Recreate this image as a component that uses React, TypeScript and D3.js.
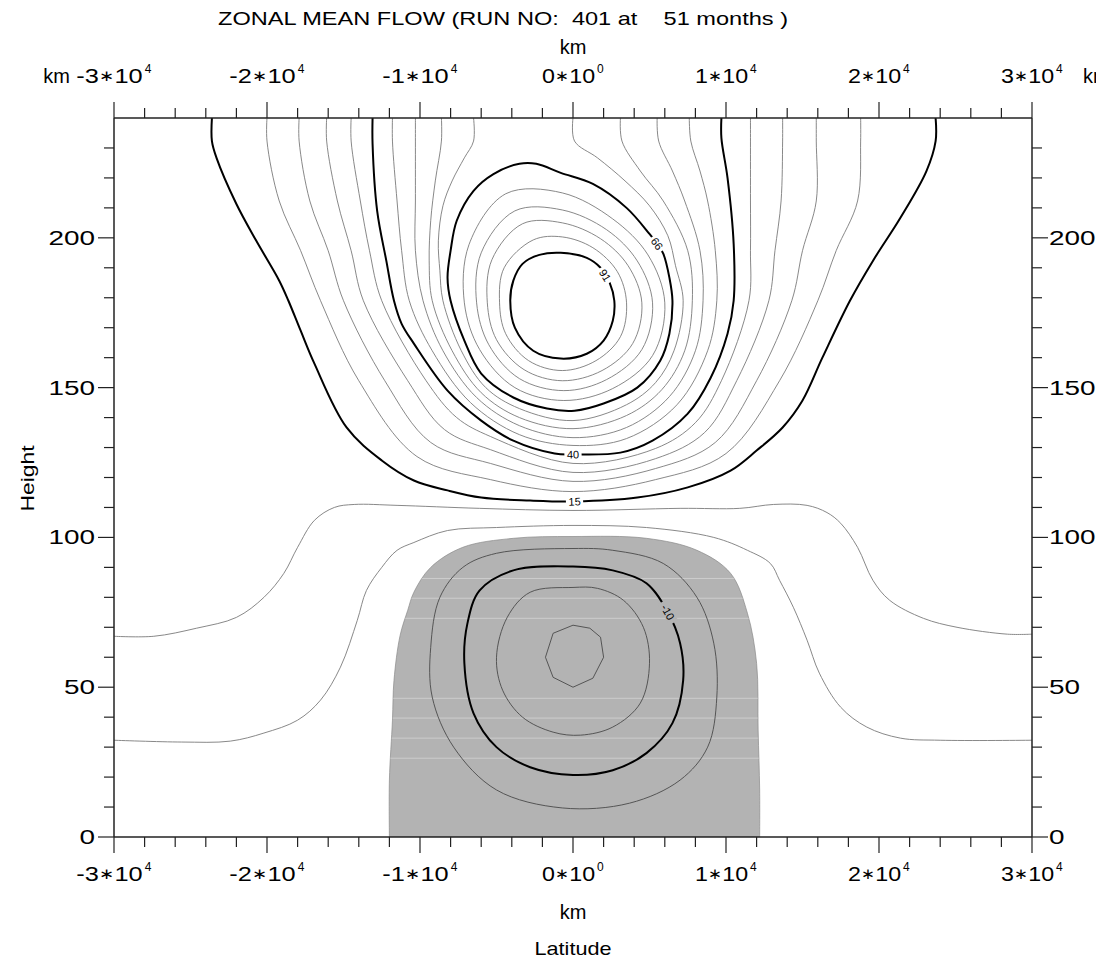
import React from 'react';
import * as d3 from 'd3';

type Pt = [number, number];

// ---------- texts ----------
const TITLE = 'ZONAL MEAN FLOW (RUN NO:  401 at    51 months )';
const X_UNIT = 'km';
const X_TITLE = 'Latitude';
const Y_TITLE = 'Height';

// ---------- axes (x in 10^3 km, y = height) ----------
const X_DOMAIN: [number, number] = [-30, 30];
const Y_DOMAIN: [number, number] = [0, 240];
const xMajorTicks = [-30, -20, -10, 0, 10, 20, 30];
const xTickMantissa = ['-3', '-2', '-1', '0', '1', '2', '3'];
const xTickExponent = ['4', '4', '4', '0', '4', '4', '4'];
const xMinorTicks = [-28, -26, -24, -22, -18, -16, -14, -12, -8, -6, -4, -2, 2, 4, 6, 8, 12, 14, 16, 18, 22, 24, 26, 28];
const yMajorTicks = [0, 50, 100, 150, 200];
const yTickLabels = ['0', '50', '100', '150', '200'];
const yMinorTicks = [10, 20, 30, 40, 60, 70, 80, 90, 110, 120, 130, 140, 160, 170, 180, 190, 210, 220, 230];

// ---------- contour lines ----------
const contour15: Pt[] = [[-23.6, 240], [-23.6, 232.3], [-23.3, 226.7], [-22.0, 211.3], [-20.7, 199], [-19.2, 185.7], [-18.6, 179], [-17.8, 169], [-16.9, 158], [-14.8, 136.7], [-12.5, 125.7], [-10.4, 119], [-8.2, 115.7], [-6.0, 113.3], [-2.8, 112.3], [0.1, 112], [4.2, 113.3], [7.5, 116.7], [10.3, 122.3], [12.0, 129], [13.7, 136.7], [15.0, 145.7], [16.3, 160], [18.1, 179], [19.6, 192.3], [21.4, 206.7], [23.1, 222.3], [23.7, 232.3], [23.7, 240]];
const contour20: Pt[] = [[-20.0, 240], [-20.0, 232.3], [-19.2, 212.3], [-17.8, 195.7], [-16.5, 179], [-14.0, 152.3], [-10.2, 127], [-5.4, 119.3], [0, 115.3], [5.4, 119.3], [10.0, 128], [13.5, 152.3], [16.0, 179], [17.2, 195.7], [18.6, 212.3], [18.8, 232.3], [18.8, 240]];
const contour25: Pt[] = [[-17.9, 240], [-17.9, 232.3], [-17.2, 212.3], [-16.0, 195.7], [-15.0, 179], [-12.3, 152.3], [-9.3, 131.7], [-5.4, 124.7], [0, 118.7], [5.4, 123], [9.3, 131.7], [12.0, 152.3], [14.3, 179], [15.0, 195.7], [15.9, 212.3], [15.9, 232.3], [15.9, 240]];
const contour30: Pt[] = [[-16.1, 240], [-16.1, 232.3], [-15.4, 212.3], [-14.5, 195.7], [-13.7, 179], [-10.8, 152.3], [-8.4, 136], [-5.4, 129.3], [0, 121.7], [5.4, 126.3], [8.6, 135], [10.7, 152.3], [12.8, 179], [13.2, 195.7], [13.6, 212.3], [13.7, 232.3], [13.7, 240]];
const contour35: Pt[] = [[-14.5, 240], [-14.5, 232.3], [-13.9, 212.3], [-13.3, 195.7], [-12.5, 179], [-9.6, 152.3], [-7.6, 140], [-5.4, 133.7], [0, 124.7], [5.4, 129.7], [8.0, 138.3], [9.7, 152.3], [11.5, 179], [11.6, 195.7], [11.6, 212.3], [11.6, 232.3], [11.6, 240]];
const contour40: Pt[] = [[-13.1, 240], [-13.1, 231.3], [-12.8, 209], [-12.2, 192.3], [-11.7, 179], [-11.2, 171.3], [-10.4, 164.7], [-8.2, 149], [-6.0, 139], [-3.9, 132.3], [-1.2, 128], [0, 127.7], [3.1, 128.3], [5.2, 132.3], [7.5, 141.3], [9.0, 153.3], [10.1, 168], [10.5, 179], [10.5, 198], [10.1, 220], [9.7, 233.3], [9.7, 240]];
const contour45: Pt[] = [[-11.8, 240], [-11.8, 232.3], [-11.5, 212.3], [-11.2, 195.7], [-10.7, 179], [-9.2, 162.3], [-6.7, 145], [-3.5, 134.3], [0, 130.7], [3.5, 133], [6.8, 144.3], [8.8, 162.3], [9.4, 179], [9.3, 195.7], [8.8, 212.3], [8.3, 222.3], [7.7, 232.3], [7.6, 240]];
const contour50: Pt[] = [[-10.3, 240], [-10.3, 232.3], [-10.3, 212.3], [-10.3, 195.7], [-9.8, 179], [-8.5, 162.3], [-6.3, 146.7], [-3.5, 137.3], [0, 133.3], [3.5, 136.7], [6.3, 147], [8.0, 162.3], [8.5, 179], [8.3, 195.7], [7.3, 212.3], [6.5, 222.3], [5.6, 232.3], [5.5, 240]];
const contour56: Pt[] = [[-8.6, 240], [-8.6, 232.3], [-9.0, 219], [-9.3, 205.7], [-9.4, 192.3], [-9.2, 179], [-7.9, 162.3], [-6.0, 148.3], [-3.5, 140], [0, 136.3], [3.5, 140.7], [5.8, 149.3], [7.3, 162.3], [7.8, 179], [7.5, 195.7], [5.9, 212.3], [4.4, 222.3], [3.2, 232.3], [3.1, 240]];
const contour61: Pt[] = [[-6.5, 240], [-6.5, 232.3], [-7.1, 226.7], [-7.9, 219], [-8.5, 210.7], [-8.8, 199], [-8.7, 189], [-8.5, 179], [-7.3, 162.3], [-5.7, 150], [-3.5, 143], [0, 139], [3.5, 144.3], [5.4, 151.7], [6.6, 162.3], [7.2, 179], [6.7, 190.7], [6.2, 200.7], [5.0, 210.7], [3.4, 219], [1.6, 226.7], [0.1, 232.3], [0, 240]];
const contour66: Pt[] = [[-8.0, 195.7], [-7.6, 205.7], [-6.5, 215.7], [-5.2, 221.3], [-3.5, 224.7], [-2.4, 224.7], [-0.8, 221.7], [1.3, 218], [3.5, 210], [5.0, 201.3], [5.5, 198], [5.9, 194.7], [6.3, 186.7], [6.5, 179], [6.3, 168], [5.7, 159], [4.2, 150], [2.0, 144.7], [0.1, 142.3], [-1.7, 143], [-3.9, 146.7], [-6.0, 154.7], [-7.1, 165.7], [-8.0, 179], [-8.2, 186.7]];
const contour71: Pt[] = [[6.0, 178.3], [5.2, 160.7], [2.6, 149.7], [-0.6, 145.7], [-3.8, 150], [-6.1, 162.7], [-7.1, 178.3], [-6.8, 197.7], [-4.4, 214.7], [-0.7, 215], [2.6, 206.3], [4.9, 194.3]];
const contour76: Pt[] = [[5.2, 178.3], [4.5, 162.7], [2.2, 152.7], [-0.6, 149], [-3.5, 153], [-5.5, 164.3], [-6.3, 178.3], [-6.0, 195], [-3.8, 209], [-0.7, 209.3], [2.2, 202.7], [4.2, 192.3]];
const contour81: Pt[] = [[4.5, 178.3], [3.9, 164.7], [1.9, 155.7], [-0.7, 152.3], [-3.2, 156], [-5.0, 166], [-5.6, 178.3], [-5.3, 192.7], [-3.3, 204.7], [-0.7, 205], [1.8, 199.7], [3.6, 190.7]];
const contour86: Pt[] = [[3.5, 178.3], [3.1, 167], [1.5, 159], [-0.7, 155.7], [-2.9, 159], [-4.4, 168], [-4.8, 178.3], [-4.5, 190], [-2.6, 199.3], [-0.7, 200.3], [1.3, 196.7], [2.9, 188.7]];
const contour91: Pt[] = [[-4.1, 179], [-3.9, 185.7], [-3.3, 191.3], [-2.2, 194.3], [-0.8, 195], [0.9, 193.3], [1.8, 190], [2.1, 187.5], [2.4, 185], [2.7, 179], [2.6, 172.3], [2.0, 165.7], [0.9, 161.3], [-0.8, 159.7], [-2.6, 162.3], [-3.8, 170]];
const contour10: Pt[] = [[-30, 67], [-27.4, 67], [-24.6, 69.7], [-22.0, 73.3], [-20.2, 80], [-18.9, 88], [-18.0, 96.7], [-16.9, 105.7], [-15.6, 110], [-14.3, 111], [-11.5, 110.7], [-6.1, 109.7], [0, 109], [7.0, 109.7], [10.9, 109.7], [13.1, 111], [15.3, 110.7], [16.6, 108.3], [17.5, 104.7], [18.6, 96.7], [19.6, 85.7], [20.7, 79], [22.9, 73], [25.1, 70], [28.4, 67.7], [30, 67.7]];
const contour5: Pt[] = [[-30, 32.3], [-25.6, 31.7], [-22.4, 32], [-20.2, 34.7], [-18.0, 39], [-16.5, 45.7], [-15.2, 56.7], [-14.1, 72.3], [-13.5, 82.3], [-12.5, 90], [-11.5, 95.7], [-10.4, 98.3], [-8.2, 102.3], [-5.0, 103.3], [0, 104], [4.8, 103.3], [9.2, 100], [11.4, 95.7], [12.9, 91.3], [13.5, 85.7], [14.4, 76.7], [15.3, 65.7], [16.1, 54.7], [17.5, 43.3], [19.2, 36.7], [21.4, 33], [24.0, 32.3], [30, 32.3]];
const contour0: Pt[] = [[-12.0, 0], [-12.0, 19], [-11.8, 39], [-11.7, 52.3], [-11.3, 67.3], [-10.8, 75.7], [-10.4, 81.7], [-9.3, 90], [-7.2, 96.7], [-3.9, 99.7], [0, 100.3], [4.8, 99.7], [8.1, 95.7], [10.3, 88], [11.4, 74.7], [12.0, 58], [12.1, 35.7], [12.2, 15.7], [12.2, 0]];
const contourM5: Pt[] = [[0, 96.3], [2.6, 95.7], [5.9, 91.3], [8.1, 80], [9.2, 64.7], [9.4, 46.7], [8.8, 30], [7.0, 19], [3.7, 11.3], [-0.7, 9.7], [-5.0, 15.7], [-7.8, 30], [-9.2, 46.7], [-9.3, 63.3], [-8.7, 80], [-7.2, 90], [-5.0, 94.7]];
const contourM10: Pt[] = [[0, 90.3], [2.6, 89], [4.8, 84.7], [6.2, 75], [7.0, 64.7], [7.2, 52.3], [6.5, 38], [4.8, 28], [2.6, 22.3], [0, 20.7], [-2.8, 23.3], [-5.0, 30], [-6.5, 41.3], [-7.1, 58], [-6.9, 71.3], [-6.1, 82.3], [-3.9, 89]];
const contourM15: Pt[] = [[0, 83.3], [1.6, 83], [3.3, 79], [4.6, 70], [5.0, 58], [4.4, 44.7], [2.6, 36.7], [0.5, 34], [-1.3, 35], [-3.3, 40], [-4.6, 49], [-5.0, 60], [-4.3, 73.3], [-2.8, 81.7]];
const contourM20: Pt[] = [[0, 70.7], [1.1, 69.7], [1.8, 66.7], [2.0, 60], [1.3, 53], [0, 50], [-1.3, 53.3], [-1.8, 60], [-1.3, 68]];
// faint gaps left by the area fill (heights)
const fillGapHeights = [86.3, 79.7, 73, 46.3, 39.7, 33, 26.3];

type C = { pts: Pt[]; kind: 'open' | 'loop' | 'poly'; bold: boolean; dark?: boolean; label?: string; at?: number };
const contours: C[] = [
  { pts: contour5, kind: 'open', bold: false },
  { pts: contour10, kind: 'open', bold: false },
  { pts: contour15, kind: 'open', bold: true, label: '15', at: 15 },
  { pts: contour20, kind: 'open', bold: false },
  { pts: contour25, kind: 'open', bold: false },
  { pts: contour30, kind: 'open', bold: false },
  { pts: contour35, kind: 'open', bold: false },
  { pts: contour40, kind: 'open', bold: true, label: '40', at: 11 },
  { pts: contour45, kind: 'open', bold: false },
  { pts: contour50, kind: 'open', bold: false },
  { pts: contour56, kind: 'open', bold: false },
  { pts: contour61, kind: 'open', bold: false },
  { pts: contour66, kind: 'loop', bold: true, label: '66', at: 10 },
  { pts: contour71, kind: 'loop', bold: false },
  { pts: contour76, kind: 'loop', bold: false },
  { pts: contour81, kind: 'loop', bold: false },
  { pts: contour86, kind: 'loop', bold: false },
  { pts: contour91, kind: 'loop', bold: true, label: '91', at: 7 },
  { pts: contourM5, kind: 'loop', bold: false, dark: true },
  { pts: contourM10, kind: 'loop', bold: true, dark: true, label: '-10', at: 3 },
  { pts: contourM15, kind: 'loop', bold: false, dark: true },
  { pts: contourM20, kind: 'poly', bold: false, dark: true },
];

const FONT = '"Liberation Sans", Arial, Helvetica, sans-serif';
const GRAY = '#b3b3b3';

export default function App() {
  const x = d3.scaleLinear().domain(X_DOMAIN).range([114, 1032]);
  const y = d3.scaleLinear().domain(Y_DOMAIN).range([837, 118]);
  const [x0, x1] = x.range();
  const [yb, yt] = y.range();

  const mk = (curve: d3.CurveFactory) =>
    d3.line<Pt>().x((d) => x(d[0])).y((d) => y(d[1])).curve(curve);
  const openLine = mk(d3.curveCatmullRom.alpha(0.5));
  const loopLine = mk(d3.curveCatmullRomClosed.alpha(0.5));
  const polyLine = mk(d3.curveLinearClosed);

  const negArea = (openLine(contour0) || '') + 'Z';

  const labelPos = (c: C) => {
    const p = c.pts;
    const i = c.at as number;
    const n = p.length;
    const a = p[(i - 1 + n) % n];
    const b = p[(i + 1) % n];
    let ang = (Math.atan2(y(b[1]) - y(a[1]), x(b[0]) - x(a[0])) * 180) / Math.PI;
    if (ang > 90) ang -= 180;
    if (ang < -90) ang += 180;
    return { px: x(p[i][0]), py: y(p[i][1]), ang };
  };

  const majorLen = 16;
  const minorLen = 10;
  const axisColor = '#222';

  const xLabel = (i: number, baseY: number) => {
    const tx = x(xMajorTicks[i]);
    const m = xTickMantissa[i];
    const mainW = (m.length + 3) * 13.3;
    const total = mainW + 9;
    const sx = tx - total / 2;
    return (
      <g key={`xl${baseY}-${i}`}>
        <text x={sx} y={baseY} fontSize={21} textLength={mainW} lengthAdjust="spacingAndGlyphs">
          {m}
          <tspan fontSize={15} dy={-2}>{'\u2217'}</tspan>
          <tspan dy={2}>10</tspan>
        </text>
        <text x={sx + mainW + 2} y={baseY - 10} fontSize={12}>{xTickExponent[i]}</text>
      </g>
    );
  };

  return (
    <svg width={1096} height={964} style={{ position: 'absolute', left: 0, top: 0, background: '#fff' }} fontFamily={FONT}>
      <defs>
        <clipPath id="plot"><rect x={x0} y={yt} width={x1 - x0} height={yb - yt} /></clipPath>
        <clipPath id="neg"><path d={negArea} /></clipPath>
      </defs>
      <rect width={1096} height={964} fill="#fff" />
      <g clipPath="url(#plot)">
        <path d={negArea} fill={GRAY} stroke="#8a8a8a" strokeWidth={0.7} />
        <g clipPath="url(#neg)">
          {fillGapHeights.map((h) => (
            <line key={h} x1={x0} x2={x1} y1={y(h)} y2={y(h)} stroke="#fff" strokeOpacity={0.35} strokeWidth={1} />
          ))}
        </g>
        {contours.map((c, i) => {
          const d = c.kind === 'open' ? openLine(c.pts) : c.kind === 'loop' ? loopLine(c.pts) : polyLine(c.pts);
          return (
            <path key={i} d={d || ''} fill="none"
              stroke={c.bold ? '#000' : c.dark ? '#4a4a4a' : '#7a7a7a'}
              strokeWidth={c.bold ? 2 : 0.9} strokeLinejoin="round" />
          );
        })}
        {contours.filter((c) => c.label).map((c, i) => {
          const { px, py, ang } = labelPos(c);
          const w = c.label!.length * 6.6;
          const bg = c.dark ? GRAY : '#fff';
          return (
            <g key={`lab${i}`} transform={`translate(${px},${py}) rotate(${ang})`}>
              <rect x={-w / 2 - 2} y={-5} width={w + 4} height={10} fill={bg} />
              <text x={0} y={4} fontSize={11} textAnchor="middle" fill="#000">{c.label}</text>
            </g>
          );
        })}
      </g>

      {/* frame */}
      <g stroke={axisColor} strokeWidth={1.5} fill="none">
        <line x1={x0} x2={x1} y1={yb} y2={yb} />
        <line x1={x0} x2={x1} y1={yt} y2={yt} />
        <line x1={x0} x2={x0} y1={yt} y2={yb} />
        <line x1={x1} x2={x1} y1={yt} y2={yb} />
      </g>
      {/* ticks */}
      <g stroke={axisColor} strokeWidth={1.2}>
        {xMajorTicks.map((t) => (
          <g key={`xm${t}`}>
            <line x1={x(t)} x2={x(t)} y1={yb} y2={yb + majorLen} />
            <line x1={x(t)} x2={x(t)} y1={yt} y2={yt - majorLen} />
          </g>
        ))}
        {xMinorTicks.map((t) => (
          <g key={`xn${t}`}>
            <line x1={x(t)} x2={x(t)} y1={yb} y2={yb + minorLen} />
            <line x1={x(t)} x2={x(t)} y1={yt} y2={yt - minorLen} />
          </g>
        ))}
        {yMajorTicks.map((t) => (
          <g key={`ym${t}`}>
            <line x1={x0} x2={x0 - majorLen} y1={y(t)} y2={y(t)} />
            <line x1={x1} x2={x1 + majorLen} y1={y(t)} y2={y(t)} />
          </g>
        ))}
        {yMinorTicks.map((t) => (
          <g key={`yn${t}`}>
            <line x1={x0} x2={x0 - minorLen} y1={y(t)} y2={y(t)} />
            <line x1={x1} x2={x1 + minorLen} y1={y(t)} y2={y(t)} />
          </g>
        ))}
      </g>

      {/* tick labels */}
      <g fill="#000">
        {xMajorTicks.map((_, i) => xLabel(i, 881))}
        {xMajorTicks.map((_, i) => xLabel(i, 83))}
        {yMajorTicks.map((t, i) => (
          <g key={`yl${t}`}>
            <text x={x0 - 19} y={y(t) + 7} fontSize={20} textAnchor="end" textLength={yTickLabels[i].length * 15.5} lengthAdjust="spacingAndGlyphs">{yTickLabels[i]}</text>
            <text x={x1 + 17} y={y(t) + 7} fontSize={20} textLength={yTickLabels[i].length * 15.5} lengthAdjust="spacingAndGlyphs">{yTickLabels[i]}</text>
          </g>
        ))}
        <text x={70} y={83} fontSize={20} textAnchor="end">{X_UNIT}</text>
        <text x={1083} y={83} fontSize={20}>{X_UNIT}</text>
      </g>

      {/* titles */}
      <text x={218} y={25} fontSize={19} textLength={570} lengthAdjust="spacingAndGlyphs" style={{ whiteSpace: 'pre' }}>{TITLE}</text>
      <text x={(x0 + x1) / 2} y={54} fontSize={20} textAnchor="middle">{X_UNIT}</text>
      <text x={(x0 + x1) / 2} y={919} fontSize={20} textAnchor="middle">{X_UNIT}</text>
      <text x={(x0 + x1) / 2} y={955} fontSize={19} textAnchor="middle" textLength={77} lengthAdjust="spacingAndGlyphs">{X_TITLE}</text>
      <text transform={`translate(34,${(yb + yt) / 2 + 1}) rotate(-90)`} fontSize={19} textAnchor="middle" textLength={66} lengthAdjust="spacingAndGlyphs">{Y_TITLE}</text>
    </svg>
  );
}
